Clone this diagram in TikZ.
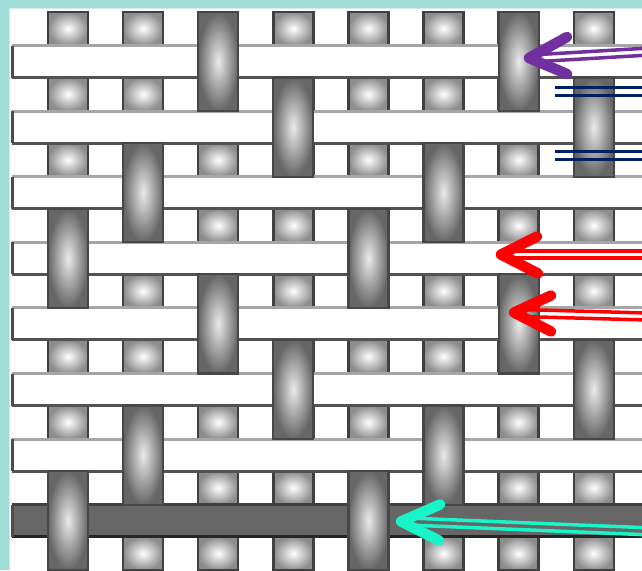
\documentclass[tikz,border=0pt]{standalone}
\usetikzlibrary{calc}
\definecolor{tealbg}{RGB}{160,220,216}
\definecolor{arrowpurple}{RGB}{112,48,160}
\definecolor{arrownavy}{RGB}{0,32,96}
\definecolor{arrowred}{RGB}{255,0,0}
\definecolor{arrowcyan}{RGB}{25,245,200}

\begin{document}
\begin{tikzpicture}[x=1pt, y=-1pt,
    knot/.style={draw=black!75, line width=2.4pt, inner color=white, outer color=black!45},
    warpfloat/.style={draw=black!72, line width=2.2pt, inner color=white!92!black, outer color=black!60},
    weftline/.style={line width=3pt},
    shaft/.style={line width=3.5pt},
    chevron/.style={line width=10.5pt, line cap=round, line join=round}
]
    % Background
    \useasboundingbox (0,0) rectangle (642,570);
    \clip (0,0) rectangle (642,570);
    \fill[tealbg] (0,0) rectangle (642,570);
    \fill[white] (10,9) rectangle (642,570);
    \draw[white!50!tealbg, line width=1pt] (9.5,570) -- (9.5,8.5) -- (642,8.5);

    % Warp knots between the wefts
    \foreach \c in {1,...,8} {
        \pgfmathsetmacro\xc{68+75.1*(\c-1)}
        \foreach \g in {0,...,8} {
            \pgfmathsetmacro\yg{61.5+65.6*(\g-1)+16}
            \path[knot] (\xc-20,\yg) rectangle (\xc+20,\yg+33.6);
        }
    }

    % Weft threads
    \foreach \r/\wfill/\wtop/\wbot in {1/white/black!35/black!68, 2/white/black!35/black!68,
        3/white/black!35/black!68, 4/white/black!35/black!68, 5/white/black!35/black!68,
        6/white/black!35/black!68, 7/white/black!35/black!68, 8/black!60/black!75/black!85} {
        \pgfmathsetmacro\yr{61.5+65.6*(\r-1)}
        \fill[\wfill] (12,\yr-16) rectangle (660,\yr+16);
        \draw[weftline, \wtop] (12,\yr-16) -- (660,\yr-16);
        \draw[weftline, \wbot] (12,\yr+16) -- (660,\yr+16);
        \draw[weftline, black!70] (12,\yr-16) -- (12,\yr+16);
    }

    % Warp floats over the wefts
    \foreach \r/\c in {1/3, 2/4, 3/2, 4/1, 5/3, 6/4, 7/2, 8/1} {
        \pgfmathsetmacro\yr{61.5+65.6*(\r-1)}
        \foreach \k in {0,4} {
            \pgfmathsetmacro\xc{68+75.1*(\c+\k-1)}
            \path[warpfloat] (\xc-20,\yr-49.6) rectangle (\xc+20,\yr+49.6);
        }
    }

    % Arrow ends
    \coordinate (purpletip) at (529,58);
    \coordinate (purplebase) at (536,58.2);
    \coordinate (purpletail) at (665,50.6);
    \coordinate (redtipA) at (501,254.5);
    \coordinate (redbaseA) at (508,254.5);
    \coordinate (redtailA) at (665,254.5);
    \coordinate (redtipB) at (514,312.5);
    \coordinate (redbaseB) at (521,313);
    \coordinate (redtailB) at (665,317);
    \coordinate (cyantip) at (401,521.5);
    \coordinate (cyanbase) at (408,521.5);
    \coordinate (cyantail) at (665,532);

    % Arrow shafts
    \foreach \s in {-3.5pt,3.5pt} {
        \draw[shaft, arrowpurple] ([yshift=\s]purpletail) -- ([yshift=\s]purplebase);
        \draw[shaft, arrowred] ([yshift=\s]redtailA) -- ([yshift=\s]redbaseA);
        \draw[shaft, arrowred] ([yshift=\s]redtailB) -- ([yshift=\s]redbaseB);
        \draw[shaft, arrowcyan] ([yshift=\s]cyantail) -- ([yshift=\s]cyanbase);
    }

    % Arrow heads
    \draw[chevron, arrowpurple] ($(purpletip)+(38,-21)$) -- (purpletip) -- ($(purpletip)+(38,16)$);
    \draw[chevron, arrowred] ($(redtipA)+(36,-18)$) -- (redtipA) -- ($(redtipA)+(37,19)$);
    \draw[chevron, arrowred] ($(redtipB)+(37,-17)$) -- (redtipB) -- ($(redtipB)+(37,19)$);
    \draw[chevron, arrowcyan] ($(cyantip)+(39,-17)$) -- (cyantip) -- ($(cyantip)+(38,19)$);

    % Navy marks
    \foreach \y in {87.5, 95.7, 151.5, 159.5} {
        \coordinate (navystart) at (555,\y);
        \coordinate (navyend) at (665,\y);
        \draw[arrownavy, line width=3pt] (navystart) -- (navyend);
    }
\end{tikzpicture}
\end{document}
